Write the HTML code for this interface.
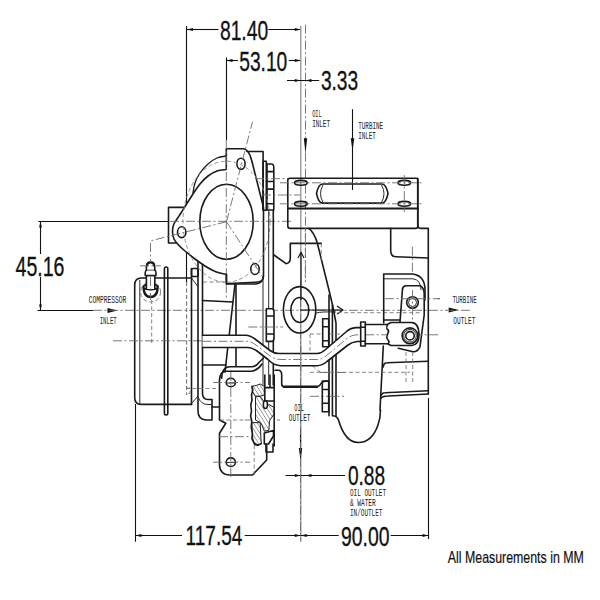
<!DOCTYPE html>
<html><head><meta charset="utf-8">
<style>
html,body{margin:0;padding:0;background:#fff;}
svg{display:block;}
text{font-family:"Liberation Sans",sans-serif;fill:#111;}
.big{font-size:27.2px;stroke:#111;stroke-width:0.3px;}
.sm{font-family:"Liberation Mono",monospace;font-size:10px;fill:#222;}
.o{fill:none;stroke:#1a1a1a;stroke-width:1.6;stroke-linejoin:round;stroke-linecap:round;}
.t{fill:none;stroke:#2a2a2a;stroke-width:1;}
.c{fill:none;stroke:#6a6a6a;stroke-width:0.9;stroke-dasharray:9 2.5 2 2.5;}
.h{fill:none;stroke:#777;stroke-width:0.9;stroke-dasharray:4 2.5;}
.d{fill:none;stroke:#111;stroke-width:1.1;}
.g{fill:none;stroke:#9a9a9a;stroke-width:1.4;}
.ar{fill:#111;stroke:none;}
</style></head>
<body>
<svg width="600" height="600" viewBox="0 0 600 600">
<!-- ===== DIMENSIONS ===== -->
<g id="dims">
  <!-- 81.40 -->
  <line class="d" x1="186.5" y1="26" x2="186.5" y2="282"/>
  <line class="h" x1="186.5" y1="282" x2="186.5" y2="395"/>
  <line class="d" x1="187" y1="29.5" x2="218.5" y2="29.5"/>
  <line class="d" x1="268.3" y1="29.5" x2="300.8" y2="29.5"/>
  <path class="ar" d="M187,29.5 l6,-1.4 v2.8z M300.8,29.5 l-6,-1.4 v2.8z"/>
  <text class="big" x="219.9" y="40.0" textLength="48.3" lengthAdjust="spacingAndGlyphs">81.40</text>
  <!-- 53.10 -->
  <line class="d" x1="226.5" y1="57.5" x2="226.5" y2="140"/>
  <line class="d" x1="226.5" y1="60.5" x2="238" y2="60.5"/>
  <line class="d" x1="288.7" y1="60.5" x2="300.8" y2="60.5"/>
  <path class="ar" d="M226.5,60.5 l6,-1.4 v2.8z M300.8,60.5 l-6,-1.4 v2.8z"/>
  <text class="big" x="239.2" y="70.8" textLength="48.1" lengthAdjust="spacingAndGlyphs">53.10</text>
  <!-- right reference lines -->
  <line class="g" x1="300.8" y1="26" x2="300.8" y2="542"/>
  <line class="c" x1="305.5" y1="24.7" x2="305.5" y2="282"/>
  <!-- 3.33 -->
  <line class="d" x1="287" y1="80.5" x2="319.2" y2="80.5"/>
  <path class="ar" d="M300.8,80.5 l-6,-1.4 v2.8z M305.5,80.5 l6,-1.4 v2.8z"/>
  <text class="big" x="320.9" y="90.0" textLength="37.3" lengthAdjust="spacingAndGlyphs">3.33</text>
  <!-- 45.16 -->
  <line class="d" x1="38.3" y1="221.5" x2="170" y2="221.5"/>
  <line class="d" x1="40.5" y1="221.5" x2="40.5" y2="254"/>
  <line class="d" x1="40.5" y1="277" x2="40.5" y2="310.5"/>
  <path class="ar" d="M40.5,221.5 l-1.4,6 h2.8z M40.5,310.5 l-1.4,-6 h2.8z"/>
  <text class="big" x="15.6" y="275.5" textLength="48.9" lengthAdjust="spacingAndGlyphs">45.16</text>
  <!-- compressor inlet -->
  <line class="d" x1="37.5" y1="310.5" x2="93" y2="310.5"/>
  <path class="ar" d="M117.5,310.5 l-10,-2.5 v5z"/>
  <text class="sm" x="88.7" y="303.3" textLength="37.6" lengthAdjust="spacingAndGlyphs">COMPRESSOR</text>
  <text class="sm" x="99.7" y="324.2" textLength="17" lengthAdjust="spacingAndGlyphs">INLET</text>
  <!-- oil inlet -->
  <path class="ar" d="M305.5,153.3 l-1.7,-15 h3.4z"/>
  <text class="sm" x="312.2" y="116.7" textLength="9.5" lengthAdjust="spacingAndGlyphs">OIL</text>
  <text class="sm" x="312.2" y="126.7" textLength="17.8" lengthAdjust="spacingAndGlyphs">INLET</text>
  <!-- turbine inlet -->
  <line class="d" x1="352.5" y1="109.2" x2="352.5" y2="190"/>
  <path class="ar" d="M352.5,150.8 l-1.8,-12.5 h3.6z"/>
  <text class="sm" x="358.3" y="128.7" textLength="24.7" lengthAdjust="spacingAndGlyphs">TURBINE</text>
  <text class="sm" x="358.3" y="138.7" textLength="17.5" lengthAdjust="spacingAndGlyphs">INLET</text>
  <!-- turbine outlet -->
  <path class="ar" d="M458.7,310 l-10,-2.5 v5z"/>
  <text class="sm" x="452.4" y="303.3" textLength="24.3" lengthAdjust="spacingAndGlyphs">TURBINE</text>
  <text class="sm" x="453.3" y="323.7" textLength="22" lengthAdjust="spacingAndGlyphs">OUTLET</text>
  <!-- oil outlet -->
  <line class="d" x1="300.5" y1="429" x2="300.5" y2="452"/>
  <path class="ar" d="M300.5,460 l-1.7,-12 h3.4z"/>
  <text class="sm" x="294.3" y="411.1" textLength="9.6" lengthAdjust="spacingAndGlyphs">OIL</text>
  <text class="sm" x="288.8" y="420.8" textLength="21.5" lengthAdjust="spacingAndGlyphs">OUTLET</text>
  <!-- 0.88 -->
  <line class="d" x1="285.5" y1="475.5" x2="345.1" y2="475.5"/>
  <path class="ar" d="M300.8,475.5 l-6,-1.4 v2.8z M305.5,475.5 l6,-1.4 v2.8z"/>
  <text class="big" x="347.9" y="484.5" textLength="37.3" lengthAdjust="spacingAndGlyphs">0.88</text>
  <text class="sm" x="350" y="495.7" textLength="36" lengthAdjust="spacingAndGlyphs">OIL OUTLET</text>
  <text class="sm" x="350" y="505.7" textLength="25.7" lengthAdjust="spacingAndGlyphs">&amp; WATER</text>
  <text class="sm" x="350" y="515.7" textLength="32.4" lengthAdjust="spacingAndGlyphs">IN/OUTLET</text>
  <!-- 117.54 -->
  <line class="d" x1="135.5" y1="404" x2="135.5" y2="541.7"/>
  <line class="d" x1="135.5" y1="535.5" x2="182" y2="535.5"/>
  <line class="d" x1="244.7" y1="535.5" x2="338.7" y2="535.5"/>
  <path class="ar" d="M135.5,535.5 l6,-1.4 v2.8z M300.8,535.5 l-6,-1.4 v2.8z M300.8,535.5 l6,-1.4 v2.8z"/>
  <text class="big" x="185.6" y="545.3" textLength="56.7" lengthAdjust="spacingAndGlyphs">117.54</text>
  <!-- 90.00 -->
  <line class="d" x1="390.7" y1="535.5" x2="428.5" y2="535.5"/>
  <line class="d" x1="428.5" y1="398" x2="428.5" y2="539"/>
  <path class="ar" d="M428.5,535.5 l-6,-1.4 v2.8z"/>
  <text class="big" x="340.9" y="545.6" textLength="48.6" lengthAdjust="spacingAndGlyphs">90.00</text>
  <!-- note -->
  <text x="447.8" y="562.9" style="font-size:17px;stroke:#111;stroke-width:0.2px" textLength="136" lengthAdjust="spacingAndGlyphs">All Measurements in MM</text>
</g>
<!-- ===== CENTER LINES ===== -->
<g id="centers">
  <line class="c" x1="93" y1="310.3" x2="470" y2="310.3"/>
      <line class="c" x1="300.5" y1="282" x2="300.5" y2="540"/>
</g>
<!-- ===== DRAWING ===== -->
<g id="drawing">
  <defs><pattern id="hp" width="3.2" height="3.2" patternUnits="userSpaceOnUse" patternTransform="rotate(-32)"><line x1="0" y1="0" x2="0" y2="3.2" stroke="#444" stroke-width="0.9"/></pattern></defs>
  <!-- ===== compressor cover ===== -->
  <path class="o" d="M191.5,278 H141.5 Q134.7,278 134.7,285 V397.5 Q134.7,404.4 141,404.4 H191.5"/>
  <line class="t" x1="139.8" y1="280" x2="139.8" y2="404"/>
  <rect class="o" x="164.4" y="267" width="3.4" height="148" rx="1.7"/>
  <path class="h" d="M151.7,300 V345 M186.7,282 V395"/>
  <path class="c" d="M113,340.8 H202"/>
  <!-- fitting -->
  <circle cx="150.6" cy="292" r="10" class="h"/>
  <path class="o" style="stroke-width:2.4" d="M143.6,286.5 Q143.6,297 150.6,297 Q157.6,297 157.6,286.5"/>
  <ellipse class="o" style="fill:#fff" cx="150.6" cy="287" rx="7" ry="2.6"/>
  <path class="o" style="fill:#fff" d="M146.4,289 V275.5 H154.8 V289"/>
  <path class="o" style="fill:#fff" d="M145.2,275.5 Q144.8,269.8 147.5,269.8 H153.7 Q156.4,269.8 156,275.5 Z"/>
  <path class="o" style="fill:#fff" d="M146.4,269.8 V266.5 Q146.6,262 150.6,262 Q154.6,262 154.7,266.5 V269.8"/>
  <path class="o" style="stroke-width:2" d="M147,265.5 Q147.5,262.6 150.6,262.6 Q153.7,262.6 154.1,265.5"/>
  <path class="c" d="M150.5,243 V262 M150.5,277 V300 M140,265.8 H161"/>
  <!-- compressor backplate / right flange -->
  <rect class="o" x="191.5" y="268.5" width="6.7" height="8" rx="1.5"/>
  <line class="o" x1="191.5" y1="268.5" x2="191.5" y2="404.4"/>
  <path class="o" d="M198,245 V411 Q198,419.5 206,420 H212 V400"/>
  <path class="o" d="M202.5,243 V394 Q203,399.5 208,399.5 H212"/>
  <path class="t" d="M198,397 Q201,404.5 208,404.5 H212"/>
  <path class="t" d="M192,403 L198,396 M191.5,278 L198.2,287"/>
  <path class="h" d="M186.5,388 H190 V393.5 H186.5"/>
  <line class="o" x1="212" y1="407" x2="219.5" y2="407"/>
  <!-- ===== compressor outlet flange ===== -->
  <path style="fill:#fff;stroke:none" d="M188,207.4 H168.5 V243 H188 Z"/>
  <path class="o" d="M188,207.4 H168.5 V243 H188"/>
  <path class="o" style="fill:#fff" d="M226.3,169.5 V148.7 H243.7 Q249,149.5 251.9,161.2 L263.5,207.5 V276.5 Q263.3,282 256,282.3 L229,283.5 H226.3 V274.4 C225.1,274.1 221.4,273.5 219.0,272.8 C216.6,272.1 214.3,271.1 212.0,270.0 C209.7,268.9 207.8,267.8 205.0,266.0 C202.2,264.2 198.3,261.5 195.0,259.0 C191.7,256.5 187.8,253.3 185.0,251.0 C182.2,248.7 180.3,247.0 178.5,245.0 C176.7,243.0 175.0,241.2 174.0,239.0 C173.0,236.8 172.6,234.3 172.5,232.0 C172.4,229.7 172.8,227.2 173.5,225.0 C174.2,222.8 175.8,221.0 177.0,219.0 C178.2,217.0 179.5,215.3 181.0,213.0 C182.5,210.7 184.0,208.2 186.0,205.0 C188.0,201.8 190.7,197.5 193.0,194.0 C195.3,190.5 197.5,187.0 200.0,184.0 C202.5,181.0 205.2,178.2 208.0,176.0 C210.8,173.8 213.9,172.1 217.0,171.0 C220.1,169.9 224.8,169.8 226.3,169.5 Z"/>
  <path class="o" style="stroke-width:1.3" d="M226.3,156.0 C224.8,156.3 220.1,156.7 217.0,158.0 C213.9,159.3 210.8,161.5 208.0,164.0 C205.2,166.5 202.2,169.8 200.0,173.0 C197.8,176.2 196.2,179.7 195.0,183.0 C193.8,186.3 193.3,191.3 193.0,193.0"/>
  
  <ellipse class="o" cx="226.5" cy="221.7" rx="26.7" ry="37.5"/>
  <ellipse class="o" cx="241" cy="163.8" rx="4.1" ry="5.6"/>
  <ellipse class="o" cx="181.7" cy="232.2" rx="4.2" ry="5.4"/>
  <ellipse class="o" cx="255" cy="269" rx="4.2" ry="5.5"/>
  <path class="o" d="M246.9,151.5 H263.1 V210"/>
  <rect class="o" x="263.1" y="161.2" width="3.2" height="49"/>
  <path class="o" d="M267,164 H272 Q273.8,164.5 273.8,167 V210 H267 Z M267,171.6 H273.8 M267,181.5 H273.8 M267,189.1 H273.8 M267,203.7 H273.8"/>
  <ellipse class="h" style="stroke:#888" cx="226.5" cy="221.7" rx="43.5" ry="60.5"/>
  <path class="c" d="M226.5,221.7 L252.5,121.7 M226.5,221.7 L150,241 M226.5,221.7 L262,276 M226.3,140 V300 M170,221.3 H292"/>
  <path class="c" d="M255,178.7 H300 M262,195 H300"/>
  <!-- ===== center housing ===== -->
  <path class="o" d="M226.5,274.4 V284 H256 Q263.3,283 263.3,276"/>
  <line class="o" x1="202.5" y1="300.5" x2="232.5" y2="302"/>
  <line class="o" x1="235" y1="284" x2="225" y2="372"/>
  <line class="o" x1="236" y1="284" x2="236" y2="366"/>
  <line class="h" x1="203" y1="282" x2="225" y2="282"/>
  <line class="o" x1="202.5" y1="365" x2="226" y2="365"/>
  <line class="o" x1="383.7" y1="320" x2="400" y2="320"/>
  <line class="t" x1="263" y1="276" x2="263" y2="385"/>
  <line class="t" x1="268.7" y1="210" x2="268.7" y2="385"/>
  <line class="o" x1="273.3" y1="210" x2="273.3" y2="385"/>
  <path class="o" style="fill:#fff" d="M266.3,308.7 H272 Q274,309 274,312 V338 Q274,341.4 272,341.4 H266.3 Z M266.3,316 H274 M266.3,334 H274"/>
  <path class="c" d="M248.3,327 H283.3"/>
  <!-- oil inlet fitting -->
  <ellipse class="o" cx="299.6" cy="309.8" rx="16.2" ry="23.2"/>
  <ellipse class="o" cx="299.8" cy="310" rx="9" ry="12.5"/>
  <line class="d" x1="300" y1="310" x2="343" y2="310"/>
  <path class="d" d="M337,306 L343,310 L337,314"/>
  <path class="t" d="M316,313 Q322,311.5 336,312"/>
  <line class="h" x1="337.7" y1="312.7" x2="420" y2="312.7"/>
  <!-- oil inlet upward arrow -->
  <line class="d" x1="301" y1="253" x2="301" y2="300"/>
  <path class="d" d="M298,258 L301,252.3 L304,258"/>
  <!-- ===== turbine inlet flange ===== -->
  <path class="o" d="M290,178.2 H416 Q417.9,178.2 417.9,180 V226 Q417.9,228.4 415.5,228.4 H290.5 Q287.8,228.4 287.8,226 V180 Q287.8,178.2 290,178.2 Z"/>
  <line class="o" style="stroke-width:1.9" x1="287.8" y1="208.5" x2="417.9" y2="208.5"/>
  <path class="o" d="M322.5,184 H382 Q386,184 388,193.5 Q386,203.1 382,203.1 H322.5 Q318.5,203.1 316.5,193.5 Q318.5,184 322.5,184 Z"/>
  <path class="t" d="M323,185 Q318,193.5 323,202.5 M381.5,185 Q386.5,193.5 381.5,202.5"/>
  <ellipse class="o" cx="300.9" cy="182.8" rx="6.3" ry="2.4"/>
  <ellipse class="o" cx="300.9" cy="203.8" rx="6.3" ry="2.4"/>
  <ellipse class="o" cx="404.3" cy="182.8" rx="6.3" ry="2.4"/>
  <ellipse class="o" cx="404.3" cy="203.8" rx="6.3" ry="2.4"/>
  <path class="c" d="M280,182.8 H422 M280,203.8 H422 M404.3,175 V212"/>
  <!-- ===== turbine housing ===== -->
  <path class="o" d="M308.7,228.4 Q314,232 317.3,243 L328.7,289 Q333,305 336,323 V415.8"/>
  <path class="o" d="M274,255 L286,263.7 Q290.3,263 290.3,258 V243.4 H321.3"/>
  <path class="h" d="M321.3,243.4 V262 M305.3,228 V281"/>
  <line class="o" x1="329" y1="295" x2="329" y2="415.8"/>
  <line class="o" x1="332.4" y1="305" x2="332.4" y2="415.8"/>
  <path class="o" d="M417.7,178.2 V226 Q418.5,228.4 421,228.4 H428.3 V394"/>
  <path class="o" d="M390.7,228.4 V251.3 Q391,256.7 396,256.7 L428.3,258"/>
  <path class="o" d="M383.7,323 V274 H413 Q425,276 425,290 V300"/>
  <path class="t" d="M383.7,278.8 H413 Q421,280 421,290"/>
  <path class="o" d="M402.5,289 Q403,285.8 406,285.8 H420 Q424.2,287 424.2,295 V315 L420,346.7 Q418,351.7 413,351.7 L398.3,348.3"/>
  <line class="o" x1="402.5" y1="289" x2="400" y2="321.7"/>
  <circle class="o" cx="412.5" cy="302.5" r="5.8"/>
  <circle class="t" cx="412.5" cy="302.5" r="4"/>
  <path class="o" d="M383.3,346 L380,410"/>
  <path class="o" d="M383.3,367 Q383.5,362.7 387,362.7 L428.3,361.3"/>
  <path class="o" d="M381.3,395.3 Q382,392.7 385,392.7 L428.3,390.7 M381.3,398 Q383,396 388,396 L428.3,394"/>
  <path class="o" d="M333,415.8 Q337,416 338.5,420 Q345,442.5 358.3,442.5 Q372,442.5 378,425 Q380.5,418 380.5,410"/>
  <path class="h" d="M406,352 V382 M412.7,352 V382 M310,372.3 H410 M310,334 H340 M310,334 V360 Q312,368 320.7,372"/>
  <path class="c" d="M412.4,246.7 V272 M412.5,290 V320 M385,298.7 H440 M320,372.5 H345 M310,396.3 H344 M440,298.7 H437"/>
  <!-- lower U bracket -->
  <path class="o" d="M275,370.3 H279 Q281.7,371 281.7,375 V384 Q281.7,387 285,387 H317 Q320,386 321,383.5 Q323,381 328.3,381"/>
  <line class="o" style="stroke-width:2.4" x1="284" y1="386.8" x2="317" y2="386.8"/>
  <path class="o" d="M322.3,381 H328.7 V411.7 H322.3 Z M322.3,389.5 H328.7 M322.3,403.3 H328.7"/>
  <!-- ===== lower bracket / oil drain ===== -->
  <path class="o" d="M221.7,378.3 Q222,366.7 230,366.7 H251.7 Q256,366.7 259,362.5 L263.3,358.3"/>
  <path class="o" d="M219.5,380 Q220,371.3 226,371.3 H252 Q258,370 262,364"/>
  <path class="o" d="M219.5,380 V420 L225.8,423.3 L219.5,433.3 V465 Q220,475 230,475 H252.5 L266.7,460 V445"/>
  <ellipse class="o" cx="230.8" cy="382.5" rx="4.6" ry="4.3"/>
  <path class="t" d="M226.5,383 H235"/>
  <ellipse class="o" cx="230.8" cy="462.2" rx="4.6" ry="4.3"/>
  <path class="t" d="M226.5,462.5 H235"/>
  <path class="c" d="M230.8,372 V478 M213,382.5 H250 M213,462.2 H250 M219,436.7 H270 M245,420 H280"/>
  <path class="h" d="M186,388.5 H219 M220,420 H245 M254.2,445 V475"/>
  <!-- hatched section -->
  <path style="fill:#fff;stroke:none" d="M252,386.4 L256.7,385.3 L260.2,384 L264.3,386.4 L274.2,386 V446 L261.3,443.6 L257.8,445.3 L254,443 L252,439 L250.6,416 Z"/>
  <path style="fill:url(#hp);stroke:#222;stroke-width:1" d="M252,386.4 L256.7,385.3 L260.2,384 L264.3,386.4 L264.3,395 L260,396.3 L255.5,396.3 L252.5,392 Z"/>
  <path style="fill:url(#hp);stroke:#222;stroke-width:1" d="M255.5,396.3 L260,396.3 L262,399 L264.3,402 L264.3,408.5 L268.9,404.5 L274.2,407.4 L274.2,413.8 L269.5,420.8 L268.9,430.2 L264.3,431.3 L262,425 L260.2,422.6 L255.5,420 Z"/>
  <path style="fill:url(#hp);stroke:#222;stroke-width:1" d="M252,422.6 L260.2,422.6 L261,440 L261.3,443.6 L257.8,445.3 L254.5,445 L253,440 L252,430 Z"/>
  <path class="o" d="M252,386.4 L252.8,390 L251.5,395 L252,400 L250.8,405 L251.5,411 L250.6,416 L251.8,421 L251.2,427 L252.4,433 L252,439 L254,443 L257.8,445.3 L261.3,443.6"/>
  <ellipse class="o" style="fill:#fff" cx="265.4" cy="404.5" rx="2" ry="4"/>
  <path class="o" d="M264.8,375 V386.4 M270,375 V387.6 M274.2,375 V446 M264.8,387.6 H274.2 M264.8,387.6 V401 H274.2"/>
  <path class="o" style="fill:#fff" d="M264.3,433 L273.5,430.5 V436 L268.5,444 H264.3 Z"/>
  <path class="o" d="M266,444 V452 H273 V444"/>
  <!-- oil line pipe -->
  <path style="fill:#fff;stroke:none" d="M202.5,335.3 H245.8 Q250,335.3 255,339 L270,350.5 Q274,353.5 279,353.5 H317.3 Q321,353.5 325,350 L346,332 Q350,328 356,327.6 H360.7 V341.5 H357 Q352,342 348,345 L327,361.5 Q322,365.7 317.3,365.7 H281 Q274,365.7 268,359.5 L257,351 Q252,347.5 248.3,347.5 H202.5 Z"/>
  <rect style="fill:#fff;stroke:none" x="365" y="324.5" width="24" height="19.3"/>
  <path class="o" d="M202.5,335.3 H245.8 Q250,335.3 255,339 L270,350.5 Q274,353.5 279,353.5 H317.3 Q321,353.5 325,350 L346,332 Q350,328 356,327.6 H360.7"/>
  <path class="o" d="M202.5,347.5 H248.3 Q252,347.5 257,351 L268,359.5 Q274,365.7 281,365.7 H317.3 Q322,365.7 327,361.5 L348,345 Q352,342 357,341.5 H360.7"/>
  <path class="c" d="M202.5,341.3 H247 Q251,341.3 256,345 L270,356 Q275,359.5 281,359.5 H317 Q321.5,359.5 326,356 L347,338.5 Q351,335 357,334.8 H440"/>
  <path class="o" style="fill:#fff" d="M360.7,322 H365.3 V346 H360.7 Z M360.7,327.3 H365.3 M360.7,341.3 H365.3"/>
  <path class="o" style="fill:#fff" d="M322.7,318.7 H328.7 V346.7 H322.7 Z M322.7,326.7 H328.7 M322.7,340.7 H328.7"/>
  <line class="o" x1="365.3" y1="324.5" x2="388" y2="324.5"/>
  <line class="o" x1="365.3" y1="343.8" x2="388" y2="343.8"/>
  <!-- banjo -->
  <path class="o" style="fill:#fff" d="M388,324 Q386,326.5 387,329 Q389.5,330.5 388,333 L387,336 Q386,338 388,340 Q390,342 388,344 L391,345.5 H411.7 Q419,345 419,335 Q419,323 411.7,322.5 H391 Z"/>
  <circle class="o" cx="410" cy="335.8" r="7.9"/>
  <circle class="t" cx="410" cy="335.8" r="6.3"/>
  <circle class="o" cx="410" cy="335.8" r="4.2"/>
  <line class="g" x1="300.8" y1="346" x2="300.8" y2="372"/>
  <line class="c" x1="300.5" y1="346" x2="300.5" y2="372"/>
</g>
</svg>
</body></html>
